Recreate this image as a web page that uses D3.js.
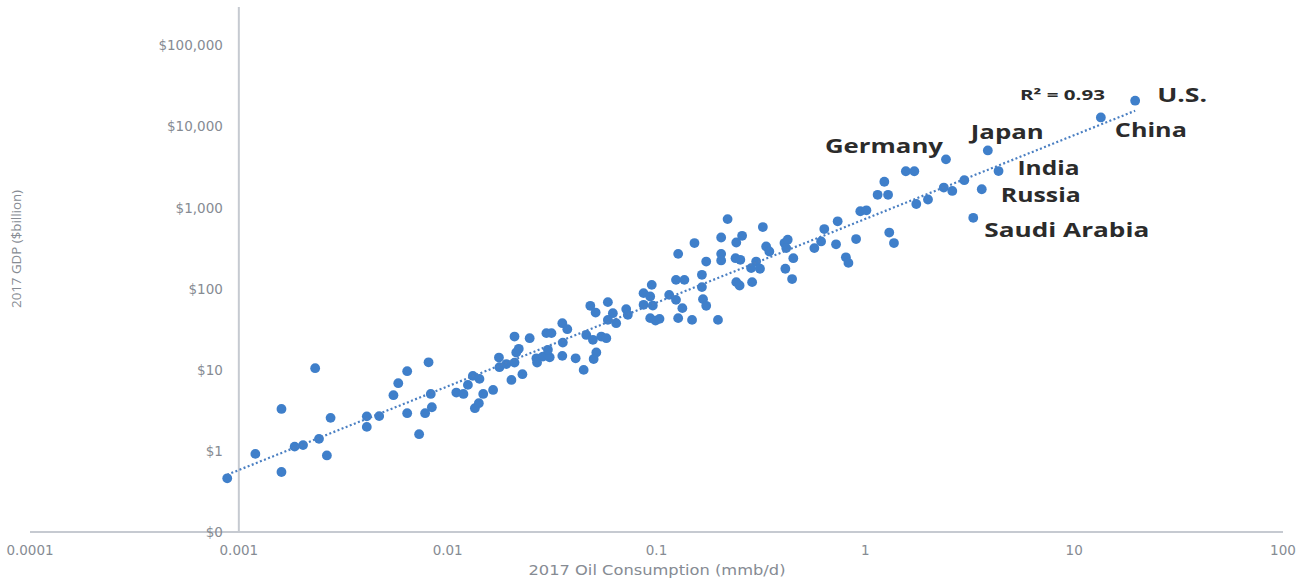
<!DOCTYPE html>
<html>
<head>
<meta charset="utf-8">
<script src="https://cdn.jsdelivr.net/npm/d3@7"></script>
<style>
  html, body { margin: 0; padding: 0; background: #ffffff; }
  svg { display: block; }
</style>
</head>
<body>
<svg id="chart" width="1311" height="585"></svg>
<script>
// ---------------- DATA ----------------
const oilConsumption = [
  0.00088, 0.0012, 0.0016, 0.0016, 0.00185, 0.00203, 0.00242, 0.00264, 0.00232, 0.00275,
  0.0041, 0.0041, 0.0047, 0.0055, 0.0058, 0.0064, 0.0081, 0.0064, 0.0073, 0.0078,
  0.0084, 0.0083, 0.0135, 0.0141, 0.0110, 0.0119, 0.0148, 0.0165, 0.0125, 0.0132,
  0.0142, 0.0202, 0.0228, 0.0177, 0.0191, 0.0176, 0.0209, 0.0213, 0.0219, 0.0209,
  0.0247, 0.0266, 0.0268, 0.0286, 0.0308, 0.0302, 0.0297, 0.0314, 0.0356, 0.0354,
  0.0354, 0.0374, 0.041, 0.0448, 0.0461, 0.0496, 0.0515, 0.0500, 0.0544, 0.0575,
  0.0482, 0.0511, 0.0585, 0.0618, 0.0585, 0.0641, 0.0716, 0.0729, 0.0867, 0.0933,
  0.0949, 0.0867, 0.0960, 0.0933, 0.0989, 0.1034, 0.219, 0.323, 0.257, 0.241,
  0.204, 0.152, 0.127, 0.173, 0.204, 0.204, 0.239, 0.252, 0.300, 0.284,
  0.313, 0.335, 0.347, 0.410, 0.425, 0.418, 0.452, 0.414, 0.446, 0.241,
  0.250, 0.287, 0.165, 0.124, 0.136, 0.165, 0.115, 0.124, 0.167, 0.173,
  0.133, 0.127, 0.148, 0.197, 0.570, 0.614, 0.636, 0.737, 0.724, 0.903,
  0.807, 0.830, 0.946, 1.012, 1.233, 1.145, 1.285, 1.563, 1.716, 1.754,
  1.995, 2.375, 2.608, 2.977, 2.433, 3.86, 4.343, 3.61, 3.287, 13.42,
  19.59, 1.302, 1.371
];
const gdpBillion = [
  0.46, 0.92, 3.3, 0.55, 1.13, 1.18, 1.41, 0.88, 10.5, 2.56,
  2.67, 1.98, 2.69, 4.87, 6.85, 9.64, 12.4, 2.92, 1.61, 2.92,
  3.46, 5.05, 3.37, 3.88, 5.25, 5.05, 5.05, 5.66, 6.53, 8.43,
  7.74, 7.52, 8.85, 10.8, 11.8, 14.2, 12.3, 16.4, 18.2, 25.8,
  24.6, 13.9, 12.3, 14.6, 14.3, 17.7, 28.4, 28.4, 21.7, 14.9,
  37.7, 31.8, 13.9, 10.0, 27.0, 23.5, 16.4, 13.6, 25.8, 24.6,
  61.7, 51.0, 68.5, 50.1, 41.4, 37.7, 56.2, 47.8, 88.5, 80.4,
  112, 63.5, 62.2, 43.5, 40.6, 42.6, 725, 578, 451, 373,
  430, 367, 270, 217, 270, 224, 239, 228, 217, 180,
  177, 333, 289, 367, 403, 318, 239, 177, 132, 121,
  110, 121, 149, 129, 129, 105, 84.3, 73.1, 74.6, 61.7,
  57.8, 43.5, 41.4, 41.4, 318, 384, 546, 681, 354, 411,
  245, 209, 906, 931, 2094, 1447, 1447, 2823, 2823, 1114,
  1266, 1775, 1612, 2191, 3959, 5097, 2838, 1692, 752, 13030,
  20940, 495, 367
];
// Labelled countries
const labelNames = ["U.S.", "China", "Japan", "Germany", "India", "Russia", "Saudi Arabia"];
const labelOil   = [19.59, 13.42, 3.86, 2.433, 4.343, 3.61, 3.287];
const labelGdp   = [20940, 13030, 5097, 3959, 2838, 1692, 752];
// Axis ticks
const xTicks = [0.0001, 0.001, 0.01, 0.1, 1, 10, 100];
const xTickLabels = ["0.0001", "0.001", "0.01", "0.1", "1", "10", "100"];
const yTicks = [0.1, 1, 10, 100, 1000, 10000, 100000];
const yTickLabels = ["$0", "$1", "$10", "$100", "$1,000", "$10,000", "$100,000"];
const rSquaredText = "R\u00B2 = 0.93";
const xTitle = "2017 Oil Consumption (mmb/d)";
const yTitle = "2017 GDP ($billion)";

// ---------------- STYLE / LAYOUT ----------------
const dotColor = "#3f7fca";
const axisColor = "#c6cad1";
const tickColor = "#868b93";
const labelColor = "#2b2b2b";
// label placement (offsets from the point, text width)
const labelStyle = {
  "U.S.":         { dx: 22,  dy: 1,   anchor: "start", len: 50 },
  "China":        { dx: 14,  dy: 20,  anchor: "start", len: 72 },
  "Japan":        { dx: -17, dy: -11, anchor: "start", len: 73 },
  "Germany":      { dx: -3,  dy: -6,  anchor: "end",   len: 118 },
  "India":        { dx: 19,  dy: 4,   anchor: "start", len: 62 },
  "Russia":       { dx: 19,  dy: 13,  anchor: "start", len: 80 },
  "Saudi Arabia": { dx: 11,  dy: 19,  anchor: "start", len: 165 }
};

const svg = d3.select("#chart");
const x = d3.scaleLog().domain([0.0001, 100]).range([30, 1283]);
const y = d3.scaleLog().domain([0.1, 300000]).range([532, 7]);
const yAxisAt = 0.001;   // vertical axis crosses at x = 0.001
const xAxisAt = 0.1;     // horizontal axis crosses at the lowest y

// Axis lines
svg.append("line")
  .attr("x1", x(0.0001)).attr("x2", x(100))
  .attr("y1", y(xAxisAt)).attr("y2", y(xAxisAt))
  .attr("stroke", axisColor).attr("stroke-width", 2);
svg.append("line")
  .attr("x1", x(yAxisAt)).attr("x2", x(yAxisAt))
  .attr("y1", y(0.1)).attr("y2", y.range()[1])
  .attr("stroke", axisColor).attr("stroke-width", 2);

// X tick labels
svg.append("g").selectAll("text").data(xTicks).join("text")
  .attr("x", d => x(d)).attr("y", y(xAxisAt) + 18)
  .attr("dy", "0.35em")
  .attr("text-anchor", "middle")
  .attr("font-family", "DejaVu Sans, sans-serif")
  .attr("font-size", 13.5)
  .attr("fill", tickColor)
  .text((d, i) => xTickLabels[i]);

// Y tick labels
svg.append("g").selectAll("text").data(yTicks).join("text")
  .attr("x", x(yAxisAt) - 16).attr("y", d => y(d))
  .attr("dy", "0.35em")
  .attr("text-anchor", "end")
  .attr("font-family", "DejaVu Sans, sans-serif")
  .attr("font-size", 13.5)
  .attr("fill", tickColor)
  .text((d, i) => yTickLabels[i]);

// Axis titles
svg.append("text")
  .attr("x", 657).attr("y", 570).attr("dy", "0.35em")
  .attr("text-anchor", "middle")
  .attr("font-family", "DejaVu Sans, sans-serif")
  .attr("font-size", 14.5)
  .attr("fill", tickColor)
  .attr("textLength", 257).attr("lengthAdjust", "spacingAndGlyphs")
  .text(xTitle);
svg.append("text")
  .attr("transform", "translate(17,249) rotate(-90)")
  .attr("dy", "0.35em")
  .attr("text-anchor", "middle")
  .attr("font-family", "Open Sans, sans-serif")
  .attr("font-size", 12.5)
  .attr("fill", tickColor)
  .attr("textLength", 118).attr("lengthAdjust", "spacingAndGlyphs")
  .text(yTitle);

// Points
const points = oilConsumption.map((v, i) => ({ oil: v, gdp: gdpBillion[i] }));

// Power trendline (least squares in log-log space)
const lx = points.map(p => Math.log10(p.oil));
const ly = points.map(p => Math.log10(p.gdp));
const mx = d3.mean(lx), my = d3.mean(ly);
let sxy = 0, sxx = 0;
for (let i = 0; i < lx.length; i++) { sxy += (lx[i] - mx) * (ly[i] - my); sxx += (lx[i] - mx) ** 2; }
const slope = sxy / sxx, intercept = my - slope * mx;
const xr = d3.extent(oilConsumption);
const trend = xr.map(v => ({ oil: v, gdp: Math.pow(10, intercept + slope * Math.log10(v)) }));

svg.append("g").selectAll("circle").data(points).join("circle")
  .attr("cx", d => x(d.oil)).attr("cy", d => y(d.gdp))
  .attr("r", 4.9)
  .attr("fill", dotColor);

svg.append("path")
  .datum(trend)
  .attr("d", d3.line().x(d => x(d.oil)).y(d => y(d.gdp)))
  .attr("fill", "none")
  .attr("stroke", "#4a7fc2")
  .attr("stroke-width", 2.2)
  .attr("stroke-dasharray", "2,2.4");

// R² annotation
svg.append("text")
  .attr("x", 1020).attr("y", 100)
  .attr("font-family", "Open Sans, sans-serif")
  .attr("font-weight", "bold")
  .attr("font-size", 14)
  .attr("fill", labelColor)
  .attr("textLength", 85).attr("lengthAdjust", "spacingAndGlyphs")
  .text(rSquaredText);

// Country labels
svg.append("g").selectAll("text").data(labelNames).join("text")
  .attr("x", (d, i) => x(labelOil[i]) + labelStyle[d].dx)
  .attr("y", (d, i) => y(labelGdp[i]) + labelStyle[d].dy)
  .attr("text-anchor", d => labelStyle[d].anchor)
  .attr("font-family", "Open Sans, sans-serif")
  .attr("font-weight", "bold")
  .attr("font-size", 19)
  .attr("fill", labelColor)
  .attr("textLength", d => labelStyle[d].len)
  .attr("lengthAdjust", "spacingAndGlyphs")
  .text(d => d);
</script>
</body>
</html>
